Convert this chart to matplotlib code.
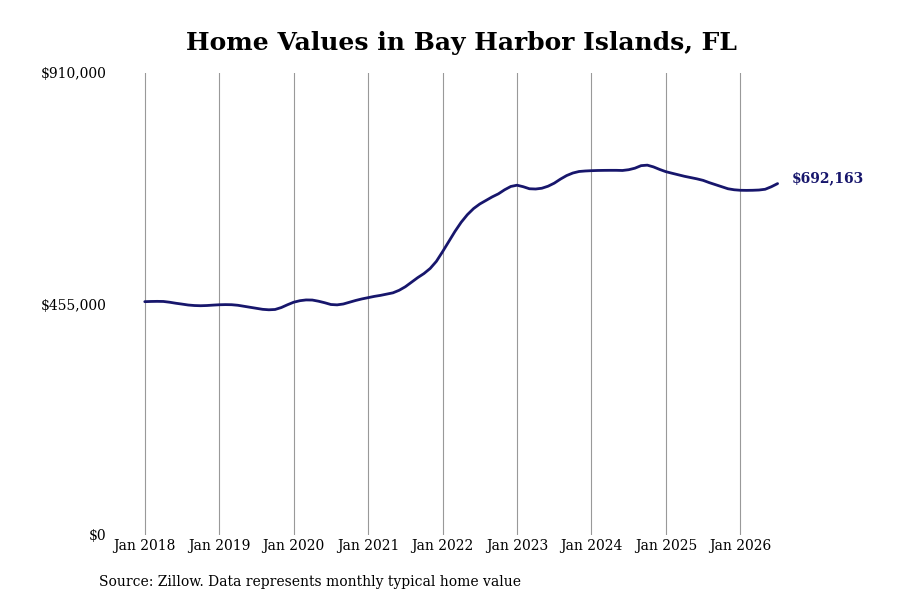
import matplotlib
matplotlib.use("Agg")
import matplotlib.pyplot as plt
import numpy as np

# monthly typical home value, Jan 2018 .. Jul 2026
values_k = [
    459.6, 460.0, 460.2, 460.0, 458.5, 456.5, 454.8, 453.0, 452.0, 451.6, 452.0, 452.8,  # 2018
    453.5, 453.8, 453.6, 452.5, 450.5, 448.5, 446.5, 444.5, 443.6, 444.2, 448.0, 453.5,  # 2019
    458.5, 461.5, 463.0, 462.8, 460.5, 457.5, 454.0, 453.3, 455.0, 458.5, 462.0, 465.0,  # 2020
    467.5, 470.0, 472.0, 474.5, 477.0, 482.0, 489.0, 498.0, 507.0, 515.0, 525.0, 539.0,  # 2021
    558.0, 578.0, 598.0, 616.0, 631.0, 643.0, 652.0, 659.0, 666.0, 672.0, 680.0, 686.5,  # 2022
    689.0, 686.0, 682.0, 681.5, 683.0, 687.0, 693.0, 701.0, 708.0, 713.0, 716.0, 717.0,  # 2023
    717.6, 718.0, 718.2, 718.3, 718.3, 718.0, 719.5, 722.5, 727.5, 728.5, 725.0, 720.0,  # 2024
    715.6, 712.5, 709.5, 706.5, 704.0, 701.5, 698.5, 694.0, 690.0, 686.0, 682.0, 680.0,  # 2025
    679.0, 678.8, 679.0, 679.5, 681.0, 686.0, 692.163,                                  # 2026
]
values = np.array(values_k) * 1000
months = np.arange(len(values))

year_labels = ["Jan 2018", "Jan 2019", "Jan 2020", "Jan 2021", "Jan 2022",
               "Jan 2023", "Jan 2024", "Jan 2025", "Jan 2026"]
y_ticks = [0, 455000, 910000]
y_labels = ["$0", "$455,000", "$910,000"]

title = "Home Values in Bay Harbor Islands, FL"
source = "Source: Zillow. Data represents monthly typical home value"
line_color = "#17166c"

plt.rcParams["font.family"] = "DejaVu Serif"

fig = plt.figure(figsize=(9, 6), dpi=100)
ax = fig.add_axes([115 / 900, 1 - 535 / 600, 675 / 900, 462 / 600])

ax.plot(months, values, color=line_color, linewidth=2.0, solid_capstyle="round")

ax.set_xlim(-4.8, 104)
ax.set_ylim(0, 910000)
ax.set_xticks(np.arange(len(year_labels)) * 12)
ax.set_xticklabels(year_labels, fontsize=10)
ax.set_yticks(y_ticks)
ax.set_yticklabels(y_labels, fontsize=10)
ax.tick_params(axis="both", length=0)
ax.tick_params(axis="x", pad=3)
ax.tick_params(axis="y", pad=6)

ax.grid(axis="x", color="#999999", linewidth=0.8)
ax.grid(axis="y", visible=False)
for s in ax.spines.values():
    s.set_visible(False)

ax.annotate("${:,.0f}".format(values[-1]), xy=(months[-1], values[-1]),
            xytext=(10, 4), textcoords="offset points",
            ha="left", va="center", fontsize=10, fontweight="bold",
            color=line_color)

fig.text(461 / 900, 1 - 43 / 600, title, ha="center", va="center",
         fontsize=18, fontweight="bold")
fig.text(99 / 900, 1 - 582 / 600, source, ha="left", va="center", fontsize=10)

fig.savefig("out.png", dpi=100)
